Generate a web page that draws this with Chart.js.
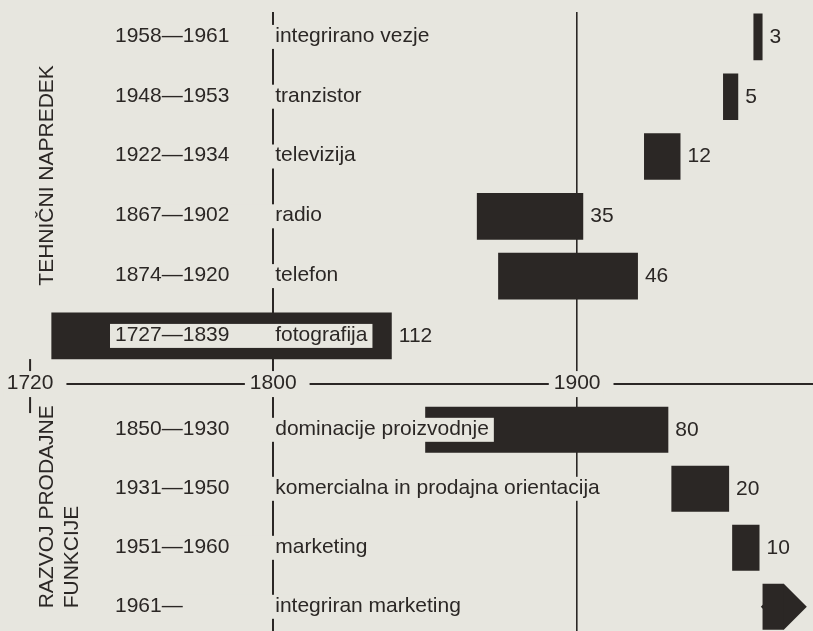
<!DOCTYPE html>
<html><head><meta charset="utf-8">
<script src="https://cdn.jsdelivr.net/npm/chart.js@4/dist/chart.umd.min.js"></script>
<style>
html,body{margin:0;padding:0;background:#e7e6df;overflow:hidden;}
#wrap{position:relative;width:813px;height:640px;}
</style></head><body>
<div id="wrap"><canvas id="c" width="813" height="640"></canvas></div>
<script>
// ---- data ----
const techNames   = ['integrirano vezje','tranzistor','televizija','radio','telefon','fotografija'];
const techPeriods = ['1958—1961','1948—1953','1922—1934','1867—1902','1874—1920','1727—1839'];
const techStart   = [1958, 1948, 1922, 1867, 1874, 1727];
const techEnd     = [1961, 1953, 1934, 1902, 1920, 1839];
const techYears   = ['3','5','12','35','46','112'];

const funcNames   = ['dominacije proizvodnje','komercialna in prodajna orientacija','marketing','integriran marketing'];
const funcPeriods = ['1850—1930','1931—1950','1951—1960','1961—'];
const funcStart   = [1850, 1931, 1951, 1961];
const funcEnd     = [1930, 1950, 1960, 1968];
const funcYears   = ['80','20','10',''];

const axisTicks   = [1720, 1800, 1900];
const techTitle   = ['TEHNIČNI NAPREDEK'];
const funcTitle   = ['RAZVOJ PRODAJNE','FUNKCIJE'];

// ---- style ----
const INK = '#2b2725';
const BG  = '#e7e6df';
const FONT = '21px "Liberation Sans", Arial, Helvetica, sans-serif';

const decor = {
  id: 'decor',
  beforeDraw(chart) {
    const {ctx} = chart;
    ctx.save(); ctx.fillStyle = BG; ctx.fillRect(0, 0, chart.width, chart.height); ctx.restore();
  },
  beforeDatasetsDraw(chart) {
    const {ctx, chartArea} = chart;
    const xs = chart.scales.x, gap = chart.scales.yGap;
    ctx.save();
    // trim gridline tops
    ctx.fillStyle = BG;
    ctx.fillRect(0, chartArea.top, chart.width, 5);
    const ya = gap.getPixelForValue(0);
    // 1720 tick stub
    ctx.strokeStyle = INK; ctx.lineWidth = 2;
    const p0 = xs.getPixelForValue(axisTicks[0]);
    ctx.beginPath(); ctx.moveTo(p0, ya - 24); ctx.lineTo(p0, ya + 30); ctx.stroke();
    // axis labels with background
    ctx.font = FONT; ctx.textBaseline = 'middle'; ctx.textAlign = 'center';
    const boxes = axisTicks.map(v => {
      const px = xs.getPixelForValue(v);
      const w = ctx.measureText(String(v)).width;
      return {px, l: px - w / 2, r: px + w / 2, v};
    });
    boxes.forEach(b => {
      ctx.fillStyle = BG;
      ctx.fillRect(b.l - 3, ya - 12, b.r - b.l + 6, 26);
      ctx.fillStyle = INK;
      ctx.fillText(String(b.v), b.px, ya);
    });
    // horizontal axis segments
    ctx.beginPath();
    for (let i = 0; i < boxes.length; i++) {
      const s = boxes[i].r + 13;
      const e = i + 1 < boxes.length ? boxes[i + 1].l - 5 : chart.width;
      ctx.moveTo(s, ya + 1); ctx.lineTo(e, ya + 1);
    }
    ctx.stroke();
    ctx.restore();
  },
  afterDatasetsDraw(chart) {
    const {ctx} = chart;
    const xs = chart.scales.x;
    const catX = xs.getPixelForValue(axisTicks[1]) + 2;
    ctx.save();
    ctx.font = FONT; ctx.textBaseline = 'middle';
    const drawRows = (scale, names, periods, years, metaIdx) => {
      const meta = chart.getDatasetMeta(metaIdx);
      names.forEach((n, i) => {
        const yc = scale.getPixelForValue(i);
        const wN = ctx.measureText(n).width;
        ctx.fillStyle = BG;
        ctx.fillRect(110, yc - 12, catX + wN + 5 - 110, 24);
        ctx.fillStyle = INK; ctx.textAlign = 'left';
        ctx.fillText(periods[i], 115, yc - 1);
        ctx.fillText(n, catX, yc - 1);
        const el = meta.data[i];
        if (years[i] && el) {
          ctx.fillText(years[i], Math.max(el.x, el.base) + 7, yc);
        }
      });
    };
    drawRows(chart.scales.yTop, techNames, techPeriods, techYears, 0);
    drawRows(chart.scales.yBot, funcNames, funcPeriods, funcYears, 1);
    // group titles (rotated)
    const yt = chart.scales.yTop, yb = chart.scales.yBot;
    ctx.fillStyle = INK;
    ctx.save();
    ctx.translate(47, (yt.top + yt.bottom) / 2 - 11);
    ctx.rotate(-Math.PI / 2);
    ctx.textAlign = 'center';
    techTitle.forEach((t, i) => ctx.fillText(t, 0, i * 25));
    ctx.restore();
    ctx.save();
    ctx.translate(47, yb.bottom - 28);
    ctx.rotate(-Math.PI / 2);
    ctx.textAlign = 'left';
    funcTitle.forEach((t, i) => ctx.fillText(t, 0, i * 25));
    ctx.restore();
    ctx.restore();
  }
};

new Chart(document.getElementById('c'), {
  type: 'bar',
  data: {
    datasets: [
      { data: techStart.map((s, i) => [s, techEnd[i]]), yAxisID: 'yTop', grouped: false,
        backgroundColor: INK, barPercentage: 0.78, categoryPercentage: 1 },
      { data: funcStart.map((s, i) => [s, funcEnd[i]]), yAxisID: 'yBot', grouped: false,
        backgroundColor: INK, barPercentage: 0.78, categoryPercentage: 1 },
      { type: 'scatter', data: [{x: funcEnd[3], y: funcNames[3]}], yAxisID: 'yBot',
        pointStyle: 'rectRot', pointRadius: 23, pointHoverRadius: 23,
        backgroundColor: INK, borderWidth: 0 }
    ]
  },
  options: {
    indexAxis: 'y',
    responsive: false,
    animation: false,
    events: [],
    layout: {autoPadding: false, padding: {top: 7, bottom: 3.7, left: 0, right: 0}},
    plugins: {legend: {display: false}, tooltip: {enabled: false}},
    scales: {
      x: {
        type: 'linear', min: 1710.1, max: 1977.6, beginAtZero: false,
        afterBuildTicks: s => { s.ticks = axisTicks.map(v => ({value: v})); },
        ticks: {display: false},
        border: {display: false},
        grid: {
          drawTicks: false,
          lineWidth: c => (c.tick && c.tick.value === axisTicks[2]) ? 1.6 : 2,
          color: c => (c.tick && c.tick.value === axisTicks[0]) ? 'rgba(0,0,0,0)' : INK
        }
      },
      yTop: {type: 'category', labels: techNames, stack: 'rows', stackWeight: 6, display: false, weight: 3},
      yGap: {type: 'category', labels: [''], stack: 'rows', stackWeight: 0.577, display: false, weight: 2},
      yBot: {type: 'category', labels: funcNames, stack: 'rows', stackWeight: 3.946, display: false, weight: 1}
    }
  },
  plugins: [decor]
});
</script>
</body></html>
